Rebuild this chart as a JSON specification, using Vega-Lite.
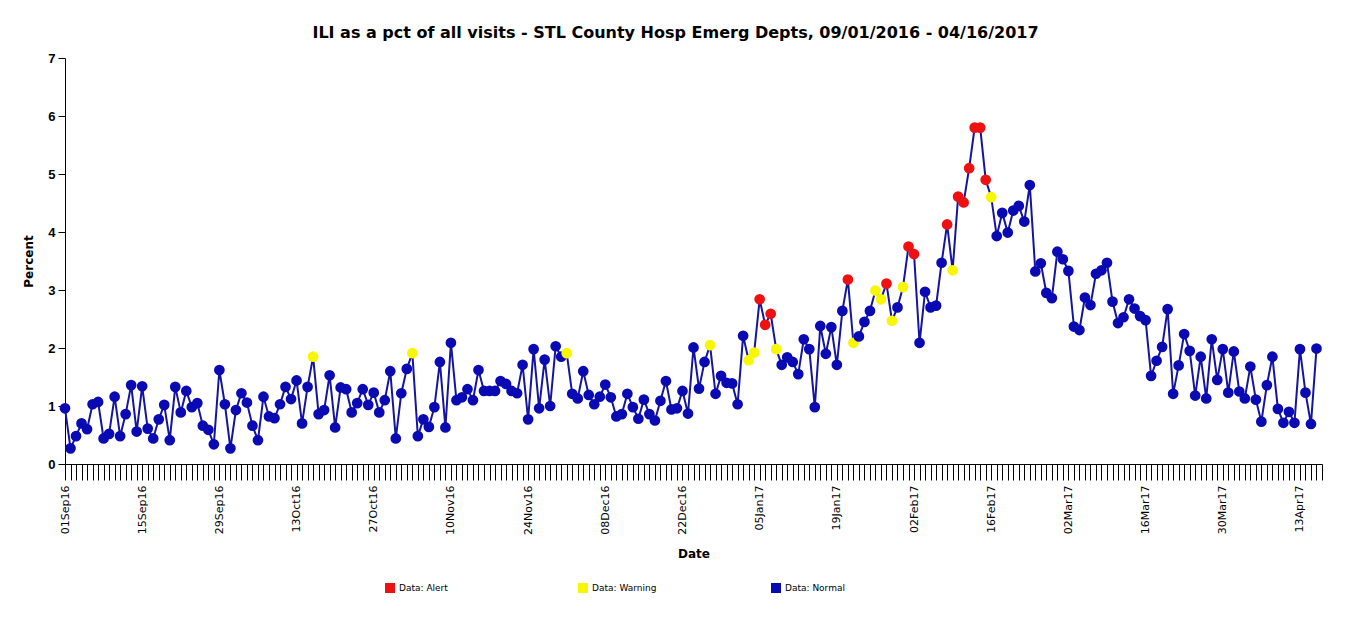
{
"$schema": "https://vega.github.io/schema/vega-lite/v6.json",
"width": 1257, "height": 406,
"autosize": "none",
"padding": {"left": 65, "top": 58, "right": 27, "bottom": 172},
"background": "white",
"config": {"view": {"stroke": null}},
"title": {"text": "ILI as a pct of all visits - STL County Hosp Emerg Depts, 09/01/2016 - 04/16/2017", "font": "DejaVu Sans", "fontSize": 16, "fontWeight": "bold", "color": "black", "offset": 11, "dx": -18},
"datasets": {"ili": [
{"date":"2016-09-01","pct":0.96,"status":"Normal"},{"date":"2016-09-02","pct":0.27,"status":"Normal"},{"date":"2016-09-03","pct":0.48,"status":"Normal"},{"date":"2016-09-04","pct":0.70,"status":"Normal"},{"date":"2016-09-05","pct":0.60,"status":"Normal"},{"date":"2016-09-06","pct":1.03,"status":"Normal"},{"date":"2016-09-07","pct":1.07,"status":"Normal"},{"date":"2016-09-08","pct":0.44,"status":"Normal"},{"date":"2016-09-09","pct":0.52,"status":"Normal"},{"date":"2016-09-10","pct":1.16,"status":"Normal"},
{"date":"2016-09-11","pct":0.48,"status":"Normal"},{"date":"2016-09-12","pct":0.86,"status":"Normal"},{"date":"2016-09-13","pct":1.36,"status":"Normal"},{"date":"2016-09-14","pct":0.56,"status":"Normal"},{"date":"2016-09-15","pct":1.34,"status":"Normal"},{"date":"2016-09-16","pct":0.61,"status":"Normal"},{"date":"2016-09-17","pct":0.44,"status":"Normal"},{"date":"2016-09-18","pct":0.77,"status":"Normal"},{"date":"2016-09-19","pct":1.02,"status":"Normal"},{"date":"2016-09-20","pct":0.41,"status":"Normal"},
{"date":"2016-09-21","pct":1.33,"status":"Normal"},{"date":"2016-09-22","pct":0.89,"status":"Normal"},{"date":"2016-09-23","pct":1.26,"status":"Normal"},{"date":"2016-09-24","pct":0.98,"status":"Normal"},{"date":"2016-09-25","pct":1.05,"status":"Normal"},{"date":"2016-09-26","pct":0.66,"status":"Normal"},{"date":"2016-09-27","pct":0.59,"status":"Normal"},{"date":"2016-09-28","pct":0.34,"status":"Normal"},{"date":"2016-09-29","pct":1.62,"status":"Normal"},{"date":"2016-09-30","pct":1.03,"status":"Normal"},
{"date":"2016-10-01","pct":0.27,"status":"Normal"},{"date":"2016-10-02","pct":0.93,"status":"Normal"},{"date":"2016-10-03","pct":1.22,"status":"Normal"},{"date":"2016-10-04","pct":1.06,"status":"Normal"},{"date":"2016-10-05","pct":0.66,"status":"Normal"},{"date":"2016-10-06","pct":0.41,"status":"Normal"},{"date":"2016-10-07","pct":1.16,"status":"Normal"},{"date":"2016-10-08","pct":0.82,"status":"Normal"},{"date":"2016-10-09","pct":0.79,"status":"Normal"},{"date":"2016-10-10","pct":1.03,"status":"Normal"},
{"date":"2016-10-11","pct":1.33,"status":"Normal"},{"date":"2016-10-12","pct":1.12,"status":"Normal"},{"date":"2016-10-13","pct":1.44,"status":"Normal"},{"date":"2016-10-14","pct":0.70,"status":"Normal"},{"date":"2016-10-15","pct":1.33,"status":"Normal"},{"date":"2016-10-16","pct":1.85,"status":"Warning"},{"date":"2016-10-17","pct":0.86,"status":"Normal"},{"date":"2016-10-18","pct":0.93,"status":"Normal"},{"date":"2016-10-19","pct":1.53,"status":"Normal"},{"date":"2016-10-20","pct":0.63,"status":"Normal"},
{"date":"2016-10-21","pct":1.32,"status":"Normal"},{"date":"2016-10-22","pct":1.29,"status":"Normal"},{"date":"2016-10-23","pct":0.89,"status":"Normal"},{"date":"2016-10-24","pct":1.05,"status":"Normal"},{"date":"2016-10-25","pct":1.29,"status":"Normal"},{"date":"2016-10-26","pct":1.02,"status":"Normal"},{"date":"2016-10-27","pct":1.23,"status":"Normal"},{"date":"2016-10-28","pct":0.89,"status":"Normal"},{"date":"2016-10-29","pct":1.10,"status":"Normal"},{"date":"2016-10-30","pct":1.60,"status":"Normal"},
{"date":"2016-10-31","pct":0.44,"status":"Normal"},
{"date":"2016-11-01","pct":1.22,"status":"Normal"},{"date":"2016-11-02","pct":1.64,"status":"Normal"},{"date":"2016-11-03","pct":1.91,"status":"Warning"},{"date":"2016-11-04","pct":0.48,"status":"Normal"},{"date":"2016-11-05","pct":0.77,"status":"Normal"},{"date":"2016-11-06","pct":0.64,"status":"Normal"},{"date":"2016-11-07","pct":0.98,"status":"Normal"},{"date":"2016-11-08","pct":1.76,"status":"Normal"},{"date":"2016-11-09","pct":0.63,"status":"Normal"},{"date":"2016-11-10","pct":2.09,"status":"Normal"},
{"date":"2016-11-11","pct":1.10,"status":"Normal"},{"date":"2016-11-12","pct":1.15,"status":"Normal"},{"date":"2016-11-13","pct":1.29,"status":"Normal"},{"date":"2016-11-14","pct":1.10,"status":"Normal"},{"date":"2016-11-15","pct":1.62,"status":"Normal"},{"date":"2016-11-16","pct":1.26,"status":"Normal"},{"date":"2016-11-17","pct":1.26,"status":"Normal"},{"date":"2016-11-18","pct":1.26,"status":"Normal"},{"date":"2016-11-19","pct":1.43,"status":"Normal"},{"date":"2016-11-20","pct":1.38,"status":"Normal"},
{"date":"2016-11-21","pct":1.26,"status":"Normal"},{"date":"2016-11-22","pct":1.22,"status":"Normal"},{"date":"2016-11-23","pct":1.71,"status":"Normal"},{"date":"2016-11-24","pct":0.77,"status":"Normal"},{"date":"2016-11-25","pct":1.98,"status":"Normal"},{"date":"2016-11-26","pct":0.96,"status":"Normal"},{"date":"2016-11-27","pct":1.80,"status":"Normal"},{"date":"2016-11-28","pct":1.00,"status":"Normal"},{"date":"2016-11-29","pct":2.03,"status":"Normal"},{"date":"2016-11-30","pct":1.85,"status":"Normal"},
{"date":"2016-12-01","pct":1.91,"status":"Warning"},{"date":"2016-12-02","pct":1.21,"status":"Normal"},{"date":"2016-12-03","pct":1.13,"status":"Normal"},{"date":"2016-12-04","pct":1.60,"status":"Normal"},{"date":"2016-12-05","pct":1.19,"status":"Normal"},{"date":"2016-12-06","pct":1.03,"status":"Normal"},{"date":"2016-12-07","pct":1.16,"status":"Normal"},{"date":"2016-12-08","pct":1.37,"status":"Normal"},{"date":"2016-12-09","pct":1.15,"status":"Normal"},{"date":"2016-12-10","pct":0.82,"status":"Normal"},
{"date":"2016-12-11","pct":0.86,"status":"Normal"},{"date":"2016-12-12","pct":1.21,"status":"Normal"},{"date":"2016-12-13","pct":0.98,"status":"Normal"},{"date":"2016-12-14","pct":0.78,"status":"Normal"},{"date":"2016-12-15","pct":1.11,"status":"Normal"},{"date":"2016-12-16","pct":0.86,"status":"Normal"},{"date":"2016-12-17","pct":0.75,"status":"Normal"},{"date":"2016-12-18","pct":1.09,"status":"Normal"},{"date":"2016-12-19","pct":1.43,"status":"Normal"},{"date":"2016-12-20","pct":0.94,"status":"Normal"},
{"date":"2016-12-21","pct":0.96,"status":"Normal"},{"date":"2016-12-22","pct":1.26,"status":"Normal"},{"date":"2016-12-23","pct":0.87,"status":"Normal"},{"date":"2016-12-24","pct":2.01,"status":"Normal"},{"date":"2016-12-25","pct":1.30,"status":"Normal"},{"date":"2016-12-26","pct":1.76,"status":"Normal"},{"date":"2016-12-27","pct":2.05,"status":"Warning"},{"date":"2016-12-28","pct":1.21,"status":"Normal"},{"date":"2016-12-29","pct":1.52,"status":"Normal"},{"date":"2016-12-30","pct":1.40,"status":"Normal"},
{"date":"2016-12-31","pct":1.39,"status":"Normal"},
{"date":"2017-01-01","pct":1.03,"status":"Normal"},{"date":"2017-01-02","pct":2.21,"status":"Normal"},{"date":"2017-01-03","pct":1.79,"status":"Warning"},{"date":"2017-01-04","pct":1.92,"status":"Warning"},{"date":"2017-01-05","pct":2.84,"status":"Alert"},{"date":"2017-01-06","pct":2.40,"status":"Alert"},{"date":"2017-01-07","pct":2.59,"status":"Alert"},{"date":"2017-01-08","pct":1.98,"status":"Warning"},{"date":"2017-01-09","pct":1.71,"status":"Normal"},{"date":"2017-01-10","pct":1.84,"status":"Normal"},
{"date":"2017-01-11","pct":1.76,"status":"Normal"},{"date":"2017-01-12","pct":1.55,"status":"Normal"},{"date":"2017-01-13","pct":2.15,"status":"Normal"},{"date":"2017-01-14","pct":1.98,"status":"Normal"},{"date":"2017-01-15","pct":0.98,"status":"Normal"},{"date":"2017-01-16","pct":2.38,"status":"Normal"},{"date":"2017-01-17","pct":1.90,"status":"Normal"},{"date":"2017-01-18","pct":2.36,"status":"Normal"},{"date":"2017-01-19","pct":1.71,"status":"Normal"},{"date":"2017-01-20","pct":2.64,"status":"Normal"},
{"date":"2017-01-21","pct":3.18,"status":"Alert"},{"date":"2017-01-22","pct":2.09,"status":"Warning"},{"date":"2017-01-23","pct":2.20,"status":"Normal"},{"date":"2017-01-24","pct":2.45,"status":"Normal"},{"date":"2017-01-25","pct":2.64,"status":"Normal"},{"date":"2017-01-26","pct":2.99,"status":"Warning"},{"date":"2017-01-27","pct":2.84,"status":"Warning"},{"date":"2017-01-28","pct":3.11,"status":"Alert"},{"date":"2017-01-29","pct":2.47,"status":"Warning"},{"date":"2017-01-30","pct":2.70,"status":"Normal"},
{"date":"2017-01-31","pct":3.05,"status":"Warning"},
{"date":"2017-02-01","pct":3.75,"status":"Alert"},{"date":"2017-02-02","pct":3.62,"status":"Alert"},{"date":"2017-02-03","pct":2.09,"status":"Normal"},{"date":"2017-02-04","pct":2.97,"status":"Normal"},{"date":"2017-02-05","pct":2.70,"status":"Normal"},{"date":"2017-02-06","pct":2.73,"status":"Normal"},{"date":"2017-02-07","pct":3.47,"status":"Normal"},{"date":"2017-02-08","pct":4.13,"status":"Alert"},{"date":"2017-02-09","pct":3.34,"status":"Warning"},{"date":"2017-02-10","pct":4.61,"status":"Alert"},
{"date":"2017-02-11","pct":4.51,"status":"Alert"},{"date":"2017-02-12","pct":5.10,"status":"Alert"},{"date":"2017-02-13","pct":5.80,"status":"Alert"},{"date":"2017-02-14","pct":5.80,"status":"Alert"},{"date":"2017-02-15","pct":4.90,"status":"Alert"},{"date":"2017-02-16","pct":4.60,"status":"Warning"},{"date":"2017-02-17","pct":3.93,"status":"Normal"},{"date":"2017-02-18","pct":4.33,"status":"Normal"},{"date":"2017-02-19","pct":3.99,"status":"Normal"},{"date":"2017-02-20","pct":4.37,"status":"Normal"},
{"date":"2017-02-21","pct":4.45,"status":"Normal"},{"date":"2017-02-22","pct":4.18,"status":"Normal"},{"date":"2017-02-23","pct":4.81,"status":"Normal"},{"date":"2017-02-24","pct":3.32,"status":"Normal"},{"date":"2017-02-25","pct":3.46,"status":"Normal"},{"date":"2017-02-26","pct":2.95,"status":"Normal"},{"date":"2017-02-27","pct":2.86,"status":"Normal"},{"date":"2017-02-28","pct":3.66,"status":"Normal"},
{"date":"2017-03-01","pct":3.53,"status":"Normal"},{"date":"2017-03-02","pct":3.33,"status":"Normal"},{"date":"2017-03-03","pct":2.37,"status":"Normal"},{"date":"2017-03-04","pct":2.31,"status":"Normal"},{"date":"2017-03-05","pct":2.87,"status":"Normal"},{"date":"2017-03-06","pct":2.74,"status":"Normal"},{"date":"2017-03-07","pct":3.28,"status":"Normal"},{"date":"2017-03-08","pct":3.34,"status":"Normal"},{"date":"2017-03-09","pct":3.47,"status":"Normal"},{"date":"2017-03-10","pct":2.80,"status":"Normal"},
{"date":"2017-03-11","pct":2.43,"status":"Normal"},{"date":"2017-03-12","pct":2.53,"status":"Normal"},{"date":"2017-03-13","pct":2.84,"status":"Normal"},{"date":"2017-03-14","pct":2.68,"status":"Normal"},{"date":"2017-03-15","pct":2.55,"status":"Normal"},{"date":"2017-03-16","pct":2.48,"status":"Normal"},{"date":"2017-03-17","pct":1.52,"status":"Normal"},{"date":"2017-03-18","pct":1.78,"status":"Normal"},{"date":"2017-03-19","pct":2.02,"status":"Normal"},{"date":"2017-03-20","pct":2.67,"status":"Normal"},
{"date":"2017-03-21","pct":1.21,"status":"Normal"},{"date":"2017-03-22","pct":1.70,"status":"Normal"},{"date":"2017-03-23","pct":2.24,"status":"Normal"},{"date":"2017-03-24","pct":1.95,"status":"Normal"},{"date":"2017-03-25","pct":1.18,"status":"Normal"},{"date":"2017-03-26","pct":1.85,"status":"Normal"},{"date":"2017-03-27","pct":1.13,"status":"Normal"},{"date":"2017-03-28","pct":2.15,"status":"Normal"},{"date":"2017-03-29","pct":1.45,"status":"Normal"},{"date":"2017-03-30","pct":1.98,"status":"Normal"},
{"date":"2017-03-31","pct":1.23,"status":"Normal"},
{"date":"2017-04-01","pct":1.94,"status":"Normal"},{"date":"2017-04-02","pct":1.25,"status":"Normal"},{"date":"2017-04-03","pct":1.13,"status":"Normal"},{"date":"2017-04-04","pct":1.68,"status":"Normal"},{"date":"2017-04-05","pct":1.11,"status":"Normal"},{"date":"2017-04-06","pct":0.73,"status":"Normal"},{"date":"2017-04-07","pct":1.36,"status":"Normal"},{"date":"2017-04-08","pct":1.85,"status":"Normal"},{"date":"2017-04-09","pct":0.95,"status":"Normal"},{"date":"2017-04-10","pct":0.71,"status":"Normal"},
{"date":"2017-04-11","pct":0.90,"status":"Normal"},{"date":"2017-04-12","pct":0.71,"status":"Normal"},{"date":"2017-04-13","pct":1.98,"status":"Normal"},{"date":"2017-04-14","pct":1.23,"status":"Normal"},{"date":"2017-04-15","pct":0.69,"status":"Normal"},{"date":"2017-04-16","pct":1.99,"status":"Normal"}
]},
"data": {"name": "ili"},
"encoding": {
  "x": {"field": "date", "type": "temporal",
    "scale": {"type": "utc", "domain": [{"year": 2016, "month": 9, "date": 1, "utc": true}, {"year": 2017, "month": 4, "date": 17, "utc": true}]},
    "axis": {"title": "Date", "titleFont": "DejaVu Sans", "titleFontSize": 12, "titleFontWeight": "bold", "titleColor": "black", "titlePadding": 14,
      "tickCount": {"interval": "day", "step": 1}, "tickSize": 16, "tickColor": "black", "domainColor": "black", "grid": false,
      "labelAngle": -90, "labelFont": "DejaVu Sans", "labelFontSize": 11, "labelColor": "black", "labelPadding": 5, "labelOverlap": false, "labelFlush": false, "labelBound": false,
      "labelExpr": "(round((datum.value - utc(2016,8,1))/86400000) % 14 == 0) ? utcFormat(datum.value, '%d%b%y') : ''"}},
  "y": {"field": "pct", "type": "quantitative",
    "scale": {"domain": [0, 7], "nice": false},
    "axis": {"title": "Percent", "titleFont": "DejaVu Sans", "titleFontSize": 12, "titleFontWeight": "bold", "titleColor": "black", "titlePadding": 12,
      "values": [0, 1, 2, 3, 4, 5, 6, 7], "tickSize": 7, "tickColor": "black", "domainColor": "black", "grid": false,
      "labelFont": "Liberation Sans", "labelFontSize": 13, "labelFontWeight": "bold", "labelColor": "black", "labelPadding": 3}}
},
"layer": [
  {"mark": {"type": "line", "color": "#1414a0", "strokeWidth": 2}},
  {"mark": {"type": "circle", "size": 115, "opacity": 1},
   "encoding": {"color": {"field": "status", "type": "nominal",
     "scale": {"domain": ["Alert", "Warning", "Normal"], "range": ["#ee1111", "#f7f700", "#0a0ab4"]},
     "legend": {"title": null, "orient": "none", "legendX": 320, "legendY": 525, "direction": "horizontal",
       "symbolType": "square", "symbolSize": 100, "symbolStrokeWidth": 0, "labelFont": "DejaVu Sans", "labelFontSize": 9, "labelColor": "black",
       "labelExpr": "'Data: ' + datum.label", "gridAlign": "all", "columnPadding": 114, "labelOffset": 4}}}}
]
}
